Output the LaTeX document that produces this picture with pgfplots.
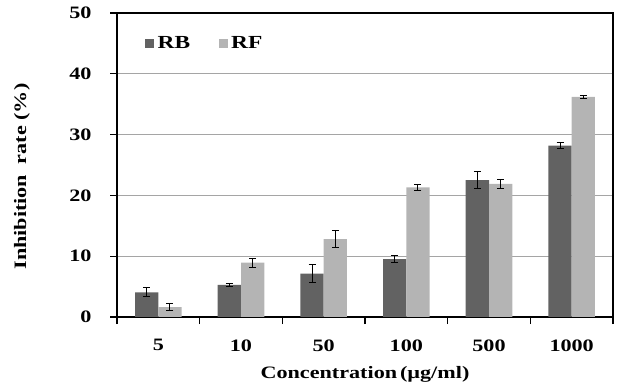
\documentclass[border=0pt]{standalone}
\usepackage{fontspec}
\setmainfont{Liberation Serif}
\newfontfamily\widefont[FakeStretch=1.27]{Liberation Serif}
\usepackage{pgfplots}
\pgfplotsset{compat=1.18}
\definecolor{rb}{RGB}{98,98,98}
\definecolor{rf}{RGB}{180,180,180}
\definecolor{gridc}{RGB}{165,165,165}
\pgfplotsset{sqlegend/.style={legend image code/.code={\fill[##1] (0bp,-4.5bp) rectangle (9bp,4.5bp);}}}
\begin{document}
\begin{tikzpicture}
\useasboundingbox (0,0) rectangle (617bp,390bp);
\begin{axis}[
  at={(117bp,73bp)}, anchor=south west,
  scale only axis, width=496bp, height=304bp,
  xmin=-0.5, xmax=5.5, ymin=0, ymax=50,
  ybar=0pt, bar width=23.33bp,
  xtick={-0.5,0.5,...,5.5}, xticklabels={,,,,,,},
  extra x ticks={0,1,2,3,4,5},
  extra x tick labels={5,10,50,100,500,1000},
  extra x tick style={major tick length=0pt, grid=none,
    tick label style={yshift=-19bp}},
  ytick={0,10,...,50},
  yticklabel style={xshift=-15bp},
  ymajorgrids, grid style={gridc, line width=1bp},
  tick align=outside, major tick length=7bp,
  xtick pos=bottom, ytick pos=left,
  axis line style={black, line width=1.3bp},
  tick style={black, line width=1.3bp},
  /pgf/number format/assume math mode=true,
  tick label style={font=\widefont\bfseries\fontsize{17.5}{17.5}\selectfont},
  every axis y label/.style={at={(axis description cs:-0.1915,0.462)}, rotate=90, anchor=center,
    font=\widefont\bfseries\fontsize{17.5}{17.5}\selectfont},
  every axis x label/.style={at={(axis description cs:0.5,-0.1875)}, anchor=center,
    font=\widefont\bfseries\fontsize{17.5}{17.5}\selectfont},
  ylabel={Inhibition\hspace{0.3em} rate (\%)},
  xlabel={Concentration\,(µg/ml)},
  legend style={at={(axis description cs:0.0565,0.901)}, anchor=west, draw=none, fill=none,
    inner sep=0pt,
    legend columns=2, font=\widefont\bfseries\fontsize{18.5}{18.5}\selectfont,
    /tikz/every even column/.append style={column sep=25bp},
    nodes={inner xsep=3.5bp}},
]
\addplot[fill=rb, draw=none, sqlegend,
  error bars/.cd, y dir=both, y explicit,
  error bar style={draw=black, solid, line width=1bp},
  error mark options={rotate=90, mark size=3.5bp, draw=black, solid, line width=1bp}]
  coordinates {(0,4.05) +- (0,0.74) (1,5.3) +- (0,0.22) (2,7.12) +- (0,1.45)
               (3,9.53) +- (0,0.52) (4,22.5) +- (0,1.37) (5,28.2) +- (0,0.52)};
\addplot[fill=rf, draw=none, sqlegend,
  error bars/.cd, y dir=both, y explicit,
  error bar style={draw=black, solid, line width=1bp},
  error mark options={rotate=90, mark size=3.5bp, draw=black, solid, line width=1bp}]
  coordinates {(0,1.64) +- (0,0.5) (1,8.93) +- (0,0.74) (2,12.8) +- (0,1.45)
               (3,21.3) +- (0,0.55) (4,21.9) +- (0,0.74) (5,36.2) +- (0,0.22)};
\legend{RB,RF}
\end{axis}
\end{tikzpicture}
\end{document}
